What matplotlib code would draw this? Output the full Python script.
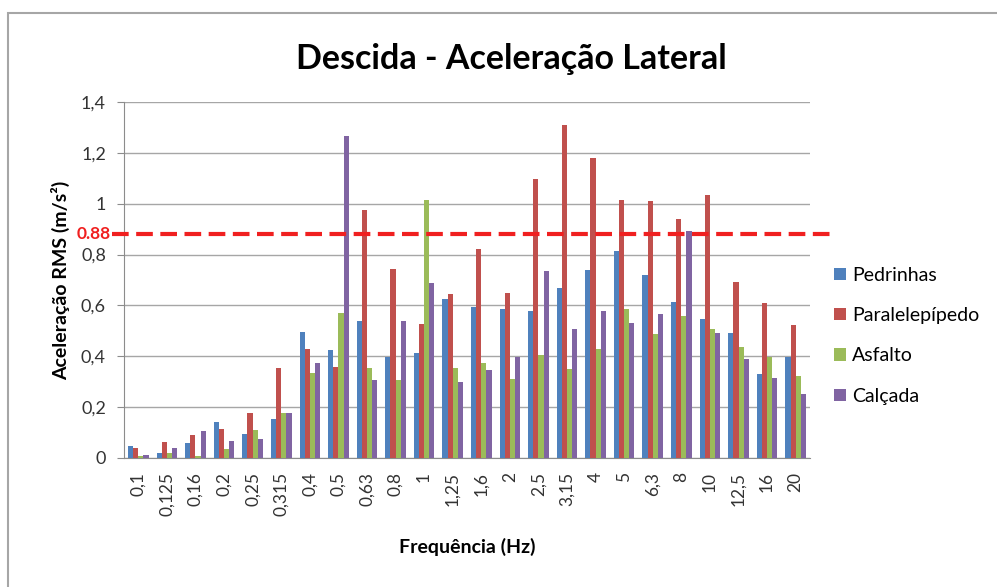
import numpy as np
import matplotlib.pyplot as plt
from matplotlib.patches import Rectangle

plt.rcParams['font.family'] = ['Lato', 'DejaVu Sans']

freqs = ["0,1", "0,125", "0,16", "0,2", "0,25", "0,315", "0,4", "0,5", "0,63",
         "0,8", "1", "1,25", "1,6", "2", "2,5", "3,15", "4", "5", "6,3", "8",
         "10", "12,5", "16", "20"]

pedrinhas = [0.046, 0.021, 0.058, 0.140, 0.096, 0.152, 0.494, 0.425, 0.540,
             0.398, 0.411, 0.625, 0.592, 0.584, 0.579, 0.670, 0.738, 0.814,
             0.718, 0.614, 0.545, 0.490, 0.330, 0.398]
paralelepipedo = [0.039, 0.063, 0.090, 0.114, 0.176, 0.354, 0.430, 0.358, 0.975,
                  0.745, 0.528, 0.643, 0.822, 0.648, 1.096, 1.310, 1.178, 1.016,
                  1.012, 0.940, 1.036, 0.693, 0.608, 0.524]
asfalto = [0.007, 0.020, 0.007, 0.034, 0.110, 0.178, 0.335, 0.572, 0.354,
           0.308, 1.015, 0.354, 0.373, 0.312, 0.404, 0.349, 0.430, 0.584,
           0.486, 0.558, 0.507, 0.438, 0.397, 0.322]
calcada = [0.013, 0.039, 0.105, 0.068, 0.075, 0.176, 0.374, 1.268, 0.306,
           0.540, 0.690, 0.298, 0.347, 0.397, 0.737, 0.507, 0.579, 0.529,
           0.568, 0.894, 0.490, 0.390, 0.315, 0.253]

series = [("Pedrinhas", pedrinhas, "#4F81BD"),
          ("Paralelepípedo", paralelepipedo, "#C0504D"),
          ("Asfalto", asfalto, "#9BBB59"),
          ("Calçada", calcada, "#8064A2")]

limite = 0.88
yticks = [0, 0.2, 0.4, 0.6, 0.8, 1.0, 1.2, 1.4]
ytick_labels = ["0", "0,2", "0,4", "0,6", "0,8", "1", "1,2", "1,4"]

fig = plt.figure(figsize=(9.97, 5.87), dpi=100)
ax = fig.add_axes([0.1244, 0.2198, 0.688, 0.6064])

# chart frame
fig.patches.append(Rectangle((0.008, -0.05), 1.2, 1.028, transform=fig.transFigure,
                             fill=False, edgecolor="#a6a6a6", lw=1.5))

x = np.arange(len(freqs))
w = 0.18
for i, (name, vals, col) in enumerate(series):
    ax.bar(x + (i - 1.5) * w, vals, w, color=col, label=name, zorder=3)

ax.set_xlim(-0.5, len(freqs) - 0.5)
ax.set_ylim(0, 1.4)
ax.set_yticks(yticks)
ax.set_yticklabels(ytick_labels, fontsize=13, color="#333333")
ax.set_xticks(x)
ax.set_xticklabels(freqs, rotation=90, fontsize=12.5, color="#333333")
ax.tick_params(axis="x", length=0, pad=10)
ax.tick_params(axis="y", length=5, color="#8c8c8c", pad=8)
ax.grid(axis="y", color="#a6a6a6", lw=1, zorder=0)
for s in ["top", "right"]:
    ax.spines[s].set_visible(False)
ax.spines["left"].set_color("#8c8c8c")
ax.spines["bottom"].set_color("#8c8c8c")

# limit line at 0.88
ax.plot([-0.017, 1.033], [limite, limite], transform=ax.get_yaxis_transform(),
        color="#f02020", lw=3, ls=(0, (4, 1.8)), clip_on=False, zorder=4)
ax.text(-0.02, limite, "0.88", transform=ax.get_yaxis_transform(),
        color="#f02020", fontsize=12.5, fontweight="bold", ha="right", va="center")

ax.set_title("Descida - Aceleração Lateral", fontsize=24.5, fontweight="bold",
             pad=24, x=0.565)
ax.set_ylabel("Aceleração RMS (m/s²)", fontsize=14, fontweight="bold", labelpad=8)
ax.set_xlabel("Frequência (Hz)", fontsize=14, fontweight="bold", labelpad=16)

ax.legend(loc="center left", bbox_to_anchor=(1.01, 0.344), frameon=False,
          fontsize=14, handlelength=0.6, handleheight=0.6, labelspacing=1.2,
          handletextpad=0.3)

fig.savefig("out.png", dpi=100, facecolor="white")
